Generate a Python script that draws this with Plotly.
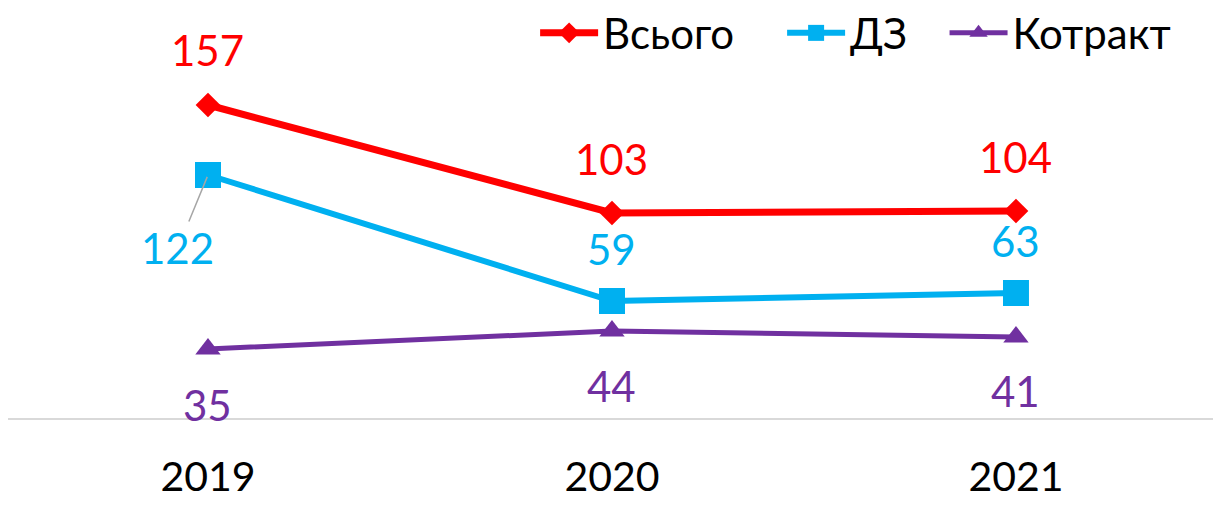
import plotly.graph_objects as go

years = ['2019', '2020', '2021']
total = [157, 103, 104]
dz = [122, 59, 63]
kontrakt = [35, 44, 41]

names = ['Всього', 'ДЗ', 'Котракт']
colors = ['#ff0000', '#00b0f0', '#7030a0']
font_family = 'Lato, Calibri, sans-serif'

fig = go.Figure()

fig.add_trace(go.Scatter(
    x=years, y=total, name=names[0] + '\u00a0' * 4, mode='lines+markers',
    line=dict(color=colors[0], width=7),
    marker=dict(symbol='diamond', size=19, color=colors[0])
))
fig.add_trace(go.Scatter(
    x=years, y=dz, name=names[1] + '\u00a0' * 3, mode='lines+markers',
    line=dict(color=colors[1], width=6),
    marker=dict(symbol='square', size=26, color=colors[1])
))
fig.add_trace(go.Scatter(
    x=years, y=kontrakt, name=names[2], mode='lines+markers',
    line=dict(color=colors[2], width=5),
    marker=dict(symbol='triangle-up', size=22, color=colors[2])
))

# data labels (pixel offsets from the point)
offsets = {
    0: [(0, -55), (0, -54), (0, -54)],
    1: [(-30, 73), (0, -52), (0, -52)],
    2: [(0, 56), (0, 55), (0, 54)],
}
for s, vals in enumerate([total, dz, kontrakt]):
    for i, v in enumerate(vals):
        ax, ay = offsets[s][i]
        leader = (s == 1 and i == 0)
        fig.add_annotation(
            x=i, y=v, xref='x', yref='y', text=str(v),
            showarrow=True, ax=ax, ay=ay,
            arrowhead=0, arrowwidth=1.5,
            arrowcolor='#a6a6a6' if leader else 'rgba(0,0,0,0)',
            standoff=2,
            font=dict(family=font_family, size=42, color=colors[s])
        )

fig.update_layout(
    width=1213, height=497,
    margin=dict(l=0, r=0, t=0, b=86, autoexpand=False),
    paper_bgcolor='white', plot_bgcolor='white',
    font=dict(family=font_family, color='black'),
    showlegend=True,
    legend=dict(
        orientation='h', x=0.963, xanchor='right', y=0.939, yanchor='middle',
        font=dict(size=42, color='black'), bgcolor='rgba(0,0,0,0)',
        itemwidth=58
    ),
    xaxis=dict(
        type='category', range=[-0.495, 2.5075], showgrid=False,
        showline=False, ticks='', tickfont=dict(size=41, color='black'),
        ticklabelstandoff=30
    ),
    yaxis=dict(
        range=[0, 205.5], showgrid=False, showticklabels=False,
        zeroline=True, zerolinecolor='#d9d9d9', zerolinewidth=2,
        showline=False
    )
)

fig.write_html('out.html')
